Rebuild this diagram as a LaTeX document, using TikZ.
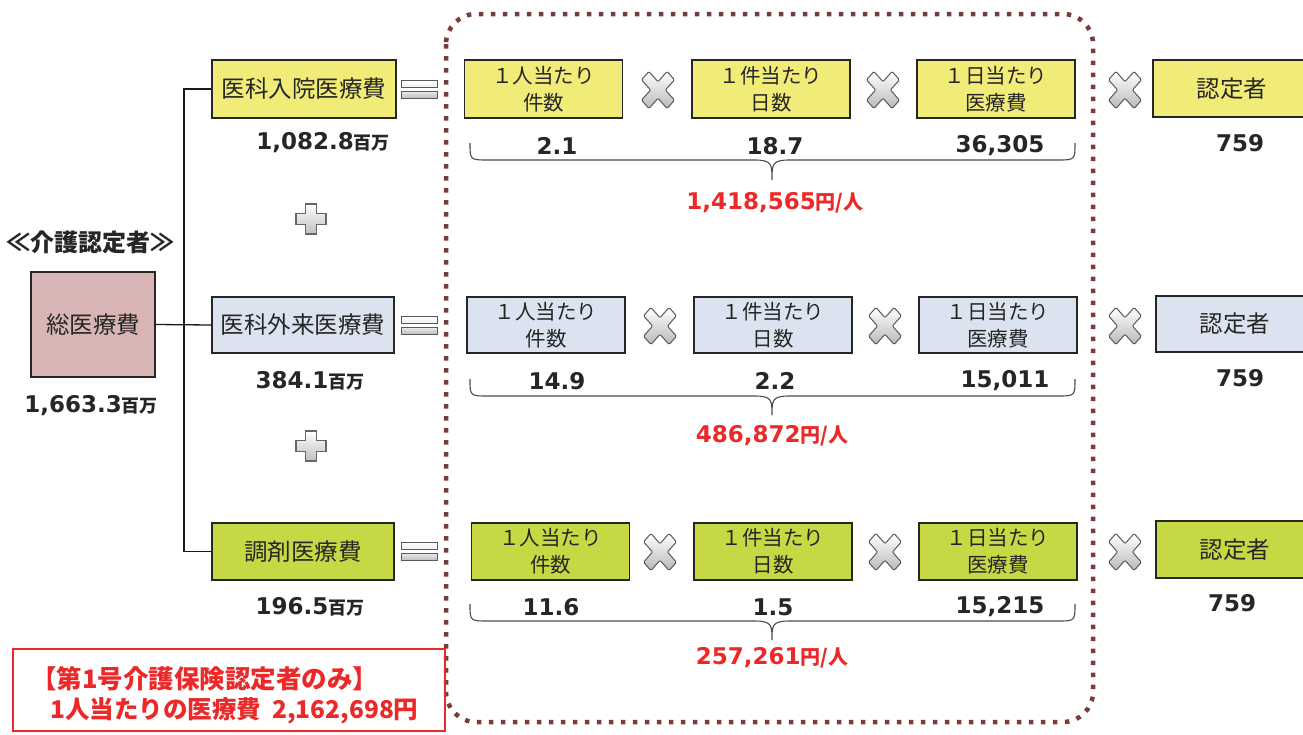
\documentclass[tikz,border=0pt]{standalone}
\usepackage{fontspec}
\setmainfont{Noto Sans CJK JP}
\newfontfamily\jp{Noto Sans CJK JP}
\newfontfamily\numf{DejaVu Sans}
\definecolor{ylw}{RGB}{241,235,120}
\definecolor{blu}{RGB}{220,227,240}
\definecolor{grn}{RGB}{198,217,68}
\definecolor{pnk}{RGB}{217,181,181}
\definecolor{dotc}{RGB}{122,59,59}
\definecolor{redt}{RGB}{236,40,40}
\definecolor{txt}{RGB}{38,38,38}
\tikzset{
  lbox/.style={draw=black!85, line width=1.3pt, inner sep=0pt, text=txt,
    font=\jp\fontsize{23.5}{26}\selectfont, align=center},
  ibox/.style={draw=black!85, line width=1.3pt, inner sep=0pt, text=txt,
    minimum width=158pt, font=\jp\fontsize{20.5}{27}\selectfont, align=center},
  numtxt/.style={text=txt, inner sep=0pt, font=\numf\bfseries\fontsize{23}{26}\selectfont},
  redtxt/.style={text=redt, inner sep=0pt, font=\numf\bfseries\fontsize{23}{26}\selectfont},
  trunk/.style={line width=1.3pt, draw=black!90},
  bracel/.style={line width=1.1pt, draw=black!70},
  xmark/.pic={
    \shade[top color=white, bottom color=gray!55, draw=black!65, line width=1pt,
      rounded corners=1.2pt, xscale=16.5, yscale=18.5]
      (0,-0.45) -- (0.55,-1) -- (1,-0.55) -- (0.45,0) -- (1,0.55) -- (0.55,1)
      -- (0,0.45) -- (-0.55,1) -- (-1,0.55) -- (-0.45,0) -- (-1,-0.55)
      -- (-0.55,-1) -- cycle;},
  plusmark/.pic={
    \shade[top color=white, bottom color=gray!50, draw=black!60, line width=1.2pt]
      (-5.5,-15) -- (5.5,-15) -- (5.5,-5.5) -- (15,-5.5) -- (15,5.5) -- (5.5,5.5)
      -- (5.5,15) -- (-5.5,15) -- (-5.5,5.5) -- (-15,5.5) -- (-15,-5.5)
      -- (-5.5,-5.5) -- cycle;},
  eqmark/.pic={
    \shade[top color=white, bottom color=gray!12, draw=black!65, line width=1pt]
      (-18,-9) rectangle (18,-2);
    \shade[top color=gray!15, bottom color=gray!50, draw=black!65, line width=1pt]
      (-18,2) rectangle (18,9);}
}
\newcommand{\hm}{{\jp\bfseries\fontsize{18}{18}\selectfont 百万}}
\newcommand{\ypn}{{\jp\bfseries\fontsize{20}{20}\selectfont 円/人}}
\newcommand{\bracerow}[3]{%
  \draw[bracel] (470,#1) .. controls (470,#2) .. (488,#2) -- (754,#2)
    .. controls (772,#2) and (772,#2+4) .. (772,#3)
    .. controls (772,#2+4) and (772,#2) .. (790,#2) -- (1057,#2)
    .. controls (1075,#2) .. (1075,#1);}
\begin{document}
\begin{tikzpicture}[x=1pt,y=-1pt]
\useasboundingbox (0,0) rectangle (1303,734);
\clip (0,0) rectangle (1303,734);
\fill[white] (0,0) rectangle (1303,734);

% dotted frame
\draw[dotc, line width=4.5pt, dash pattern=on 4.5pt off 7.5pt, rounded corners=30pt]
  (446,14) rectangle (1093,722);

% left
\node[inner sep=0pt, text=txt, font=\jp\bfseries\fontsize{24}{26}\selectfont] (hdr) at (90,242) {≪介護認定者≫};
\node[lbox, fill=pnk, minimum width=124pt, minimum height=105pt] (total) at (93,324.5) {総医療費};
\node[numtxt] (totv) at (91,406) {1,663.3\hm};

% category boxes
\node[lbox, fill=ylw, minimum width=184pt, minimum height=58pt] (c1) at (304,89) {医科入院医療費};
\node[lbox, fill=blu, minimum width=182pt, minimum height=56pt] (c2) at (303,325) {医科外来医療費};
\node[lbox, fill=grn, minimum width=182pt, minimum height=57pt] (c3) at (303,551.5) {調剤医療費};
\node[numtxt] (c1v) at (323,143) {1,082.8\hm};
\node[numtxt] (c2v) at (310,381) {384.1\hm};
\node[numtxt] (c3v) at (310,607) {196.5\hm};

\coordinate (tr) at (184,325);
\draw[trunk] (total.east) -- (c2.west);
\draw[trunk] (c1.west) -- (c1.west -| tr) -- (c3.west -| tr) -- (c3.west);

\pic at (311,219) {plusmark};
\pic at (311,446) {plusmark};

\pic at (419,89) {eqmark};
\pic at (419,325) {eqmark};
\pic at (419,551) {eqmark};

% row 1
\node[ibox, fill=ylw, minimum height=58pt] (a1) at (543.5,89) {１人当たり\\件数};
\node[ibox, fill=ylw, minimum height=58pt] (b1) at (771,89) {１件当たり\\日数};
\node[ibox, fill=ylw, minimum height=58pt] (d1) at (996,89) {１日当たり\\医療費};
\node[lbox, fill=ylw, minimum width=158pt, minimum height=57pt] (n1) at (1232,88.5) {認定者};
\pic at (658,90) {xmark};
\pic at (883,90) {xmark};
\pic at (1125,90) {xmark};
\node[numtxt] (a1v) at (557,146) {2.1};
\node[numtxt] (b1v) at (775,146) {18.7};
\node[numtxt] (d1v) at (1000,146) {36,305};
\node[numtxt] (n1v) at (1240,143) {759};
\bracerow{143}{160}{180}
\node[redtxt] (r1) at (775,203) {1,418,565\ypn};

% row 2
\node[ibox, fill=blu, minimum height=56pt] (a2) at (546,325) {１人当たり\\件数};
\node[ibox, fill=blu, minimum height=56pt] (b2) at (773,325) {１件当たり\\日数};
\node[ibox, fill=blu, minimum height=56pt] (d2) at (998,325) {１日当たり\\医療費};
\node[lbox, fill=blu, minimum width=158pt, minimum height=56pt] (n2) at (1235,324) {認定者};
\pic at (660,326) {xmark};
\pic at (885,326) {xmark};
\pic at (1125,326) {xmark};
\node[numtxt] (a2v) at (557,381) {14.9};
\node[numtxt] (b2v) at (775,381) {2.2};
\node[numtxt] (d2v) at (1005,381) {15,011};
\node[numtxt] (n2v) at (1240,378) {759};
\bracerow{379}{396}{415}
\node[redtxt] (r2) at (772,436) {486,872\ypn};

% row 3
\node[ibox, fill=grn, minimum height=57pt] (a3) at (550.5,551.5) {１人当たり\\件数};
\node[ibox, fill=grn, minimum height=57pt] (b3) at (773,551.5) {１件当たり\\日数};
\node[ibox, fill=grn, minimum height=57pt] (d3) at (998,551.5) {１日当たり\\医療費};
\node[lbox, fill=grn, minimum width=158pt, minimum height=57pt] (n3) at (1235,549.5) {認定者};
\pic at (660,552) {xmark};
\pic at (885,552) {xmark};
\pic at (1125,552) {xmark};
\node[numtxt] (a3v) at (551,607) {11.6};
\node[numtxt] (b3v) at (773,607) {1.5};
\node[numtxt] (d3v) at (1000,607) {15,215};
\node[numtxt] (n3v) at (1232,603) {759};
\bracerow{604}{621}{640}
\node[redtxt] (r3) at (772,658) {257,261\ypn};

% red box
\draw[redt, line width=2pt] (13,649) rectangle (445,731);
\node[anchor=west, inner sep=0pt, text=redt, font=\jp\bfseries\fontsize{25.5}{28}\selectfont] (rb1) at (31,679) {【第1号介護保険認定者のみ】};
\node[anchor=west, inner sep=0pt, text=redt, font=\jp\bfseries\fontsize{24.5}{28}\selectfont] (rb2) at (50,711) {1人当たりの医療費\ \ 2,162,698円};
\end{tikzpicture}
\end{document}
